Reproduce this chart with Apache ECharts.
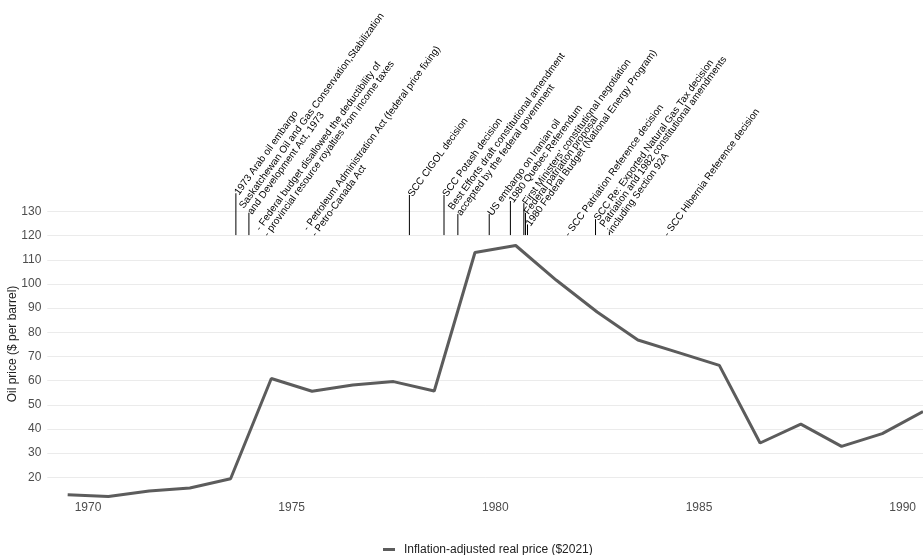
<!DOCTYPE html>
<html>
<head>
<meta charset="utf-8">
<script src="https://cdn.jsdelivr.net/npm/echarts@6/dist/echarts.min.js"></script>
<style>
html,body{margin:0;padding:0;background:#fff;}
#chart{width:923px;height:555px;}
</style>
</head>
<body>
<div id="chart"></div>
<script>
// Oil price series (annual, plotted at mid-year)
const years = [1969.5,1970.5,1971.5,1972.5,1973.5,1974.5,1975.5,1976.5,1977.5,1978.5,1979.5,1980.5,1981.5,1982.5,1983.5,1984.5,1985.5,1986.5,1987.5,1988.5,1989.5,1990.5];
const prices = [12.8,12.1,14.3,15.6,19.4,60.9,55.6,58.2,59.6,55.7,113.0,115.9,101.5,88.4,76.8,71.6,66.3,34.2,42.0,32.8,38.1,47.2];
const seriesName = 'Inflation-adjusted real price ($2021)';
const xTicks = [1970,1975,1980,1985,1990];

// Event annotations: x (year), top of the leader line (price units), text
const annBase = 120.2;
const annYears = [1973.63,1973.95,1974.35,1975.52,1977.89,1978.74,1979.08,1979.85,1980.37,1980.70,1980.74,1980.79,1981.74,1982.46,1982.80,1984.17];
const annTops  = [137.5,129.45,120.2,120.2,136.8,136.8,128.9,128.9,134.3,133.4,129.4,124.6,120.2,126.8,121.7,120.2];
const annHasLine = [1,1,0,0,1,1,1,1,1,1,1,1,0,1,1,0];
const annTexts = [
  '1973 Arab oil embargo',
  'Saskatchewan Oil and Gas Conservation,Stabilization\nand Development Act, 1973',
  '- Federal budget disallowed the deductibility of\n- provincial resource royalties from income taxes',
  '- Petroleum Administration Act (federal price fixing)\n- Petro-Canada Act',
  'SCC CIGOL decision',
  'SCC Potash decision',
  'Best Efforts draft constitutional amendment\naccepted by the federal government',
  'US embargo on Iranian oil',
  '1980 Quebec Referendum',
  'First Ministers\u2019 constitutional negotiation',
  'Federal patriation proposal',
  '1980 Federal Budget (National Energy Program)',
  '- SCC Patriation Reference decision',
  'SCC Re: Exported Natural Gas Tax decision',
  'Patriation and 1982 constitutional amendments\nincluding Section 92A',
  '- SCC Hibernia Reference decision'
];

const FONT = '"Liberation Sans", Arial, Helvetica, sans-serif';
const chart = echarts.init(document.getElementById('chart'), null, {renderer:'canvas'});
const ROT = 54 * Math.PI / 180;

const option = {
  animation: false,
  backgroundColor: '#ffffff',
  grid: {left: 47.3, right: 0, top: 211.4, bottom: 53.5, containLabel: false},
  xAxis: {
    type: 'value', min: 1969, max: 1990.5,
    axisLine: {show: false}, axisTick: {show: false},
    splitLine: {show: false},
    axisLabel: {customValues: xTicks, formatter: v => String(v), margin: 0, fontSize: 12, color: '#4d4d4d', fontFamily: FONT}
  },
  yAxis: {
    type: 'value', min: 10, max: 130, interval: 10,
    axisLine: {show: false}, axisTick: {show: false},
    axisLabel: {formatter: v => v === 10 ? '' : String(v), margin: 6, fontSize: 12, color: '#4d4d4d', fontFamily: FONT},
    splitLine: {show: true, lineStyle: {width: 1, color: ['rgba(0,0,0,0)','#ebebeb','#ebebeb','#ebebeb','#ebebeb','#ebebeb','#ebebeb','#ebebeb','#ebebeb','#ebebeb','#ebebeb','#ebebeb','#ebebeb']}}
  },
  legend: {
    data: [seriesName], left: 378, top: 538.5,
    icon: 'rect', itemWidth: 12, itemHeight: 3,
    textStyle: {fontSize: 12, color: '#222', fontFamily: FONT, padding: [0,0,0,4]}
  },
  graphic: [{
    type: 'text', x: 12.5, y: 344, rotation: Math.PI/2,
    style: {text: 'Oil price ($ per barrel)', textAlign: 'center', textVerticalAlign: 'middle', align: 'center', verticalAlign: 'middle', font: '12px ' + FONT, fill: '#222'}
  }],
  series: [
    {
      name: seriesName, type: 'line',
      data: years.map((y, i) => [y, prices[i]]),
      showSymbol: false, symbol: 'none',
      lineStyle: {color: '#5c5c5c', width: 3},
      itemStyle: {color: '#5c5c5c'},
      clip: false, z: 3
    },
    {
      name: 'events', type: 'custom', clip: false, z: 5,
      data: annYears.map((y, i) => [y, annTops[i]]),
      encode: {x: 0, y: 1},
      renderItem: function (params, api) {
        const i = params.dataIndex;
        const top = api.coord([annYears[i], annTops[i]]);
        const base = api.coord([annYears[i], annBase]);
        const children = [];
        if (annHasLine[i]) {
          children.push({type: 'line', shape: {x1: top[0], y1: base[1], x2: top[0], y2: top[1]}, style: {stroke: '#000', lineWidth: 1}});
        }
        children.push({
          type: 'text', x: top[0], y: top[1], rotation: ROT,
          style: {text: annTexts[i], x: 0, y: 6, textAlign: 'left', textVerticalAlign: 'bottom', align: 'left', verticalAlign: 'bottom', font: '10px ' + FONT, fill: '#000', lineHeight: 10}
        });
        return {type: 'group', children: children};
      }
    }
  ]
};
chart.setOption(option);
</script>
</body>
</html>
